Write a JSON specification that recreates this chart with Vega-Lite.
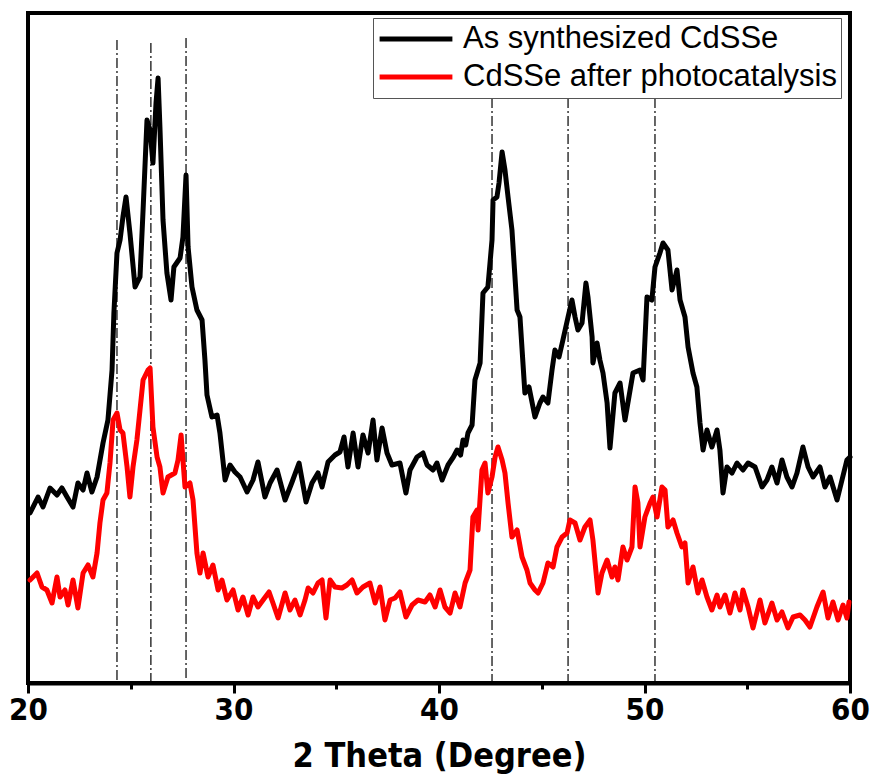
{
  "$schema": "https://vega.github.io/schema/vega-lite/v6.json",
  "width": 822,
  "height": 670,
  "autosize": {"type": "none"},
  "padding": {"left": 28, "top": 13, "right": 23, "bottom": 100},
  "background": "white",
  "config": {
    "view": {"stroke": "black", "strokeWidth": 4},
    "font": "Liberation Sans"
  },
  "datasets": {
    "black": [
      {"t":20.10,"i":170},{"t":20.49,"i":186},{"t":20.73,"i":176},{"t":21.07,"i":195},{"t":21.41,"i":188},{"t":21.65,"i":195},{"t":21.90,"i":186},{"t":22.19,"i":176},{"t":22.43,"i":200},{"t":22.68,"i":193},{"t":22.87,"i":210},{"t":23.11,"i":191},{"t":23.36,"i":206},{"t":23.65,"i":240},{"t":23.89,"i":263},{"t":24.09,"i":313},{"t":24.18,"i":370},{"t":24.33,"i":430},{"t":24.48,"i":443},{"t":24.62,"i":466},{"t":24.77,"i":486},{"t":24.96,"i":450},{"t":25.21,"i":396},{"t":25.45,"i":406},{"t":25.60,"i":473},{"t":25.79,"i":563},{"t":25.94,"i":553},{"t":26.08,"i":520},{"t":26.23,"i":580},{"t":26.33,"i":605},{"t":26.42,"i":556},{"t":26.57,"i":463},{"t":26.76,"i":410},{"t":26.96,"i":383},{"t":27.10,"i":416},{"t":27.40,"i":425},{"t":27.54,"i":446},{"t":27.69,"i":508},{"t":27.79,"i":436},{"t":27.98,"i":396},{"t":28.22,"i":373},{"t":28.47,"i":363},{"t":28.61,"i":323},{"t":28.71,"i":288},{"t":28.95,"i":266},{"t":29.20,"i":268},{"t":29.34,"i":250},{"t":29.59,"i":203},{"t":29.83,"i":218},{"t":30.07,"i":211},{"t":30.32,"i":206},{"t":30.66,"i":191},{"t":30.95,"i":203},{"t":31.19,"i":221},{"t":31.53,"i":186},{"t":31.78,"i":200},{"t":32.12,"i":213},{"t":32.51,"i":183},{"t":32.85,"i":201},{"t":33.19,"i":220},{"t":33.53,"i":181},{"t":33.82,"i":200},{"t":34.11,"i":210},{"t":34.31,"i":196},{"t":34.60,"i":221},{"t":34.94,"i":228},{"t":35.18,"i":231},{"t":35.38,"i":246},{"t":35.57,"i":216},{"t":35.82,"i":250},{"t":36.06,"i":216},{"t":36.30,"i":248},{"t":36.55,"i":230},{"t":36.79,"i":263},{"t":36.98,"i":223},{"t":37.23,"i":255},{"t":37.47,"i":230},{"t":37.71,"i":218},{"t":38.10,"i":220},{"t":38.39,"i":190},{"t":38.59,"i":213},{"t":38.93,"i":226},{"t":39.22,"i":230},{"t":39.42,"i":218},{"t":39.71,"i":213},{"t":39.90,"i":220},{"t":40.15,"i":203},{"t":40.44,"i":218},{"t":40.70,"i":226},{"t":40.88,"i":233},{"t":41.05,"i":228},{"t":41.17,"i":243},{"t":41.30,"i":238},{"t":41.41,"i":250},{"t":41.61,"i":258},{"t":41.75,"i":303},{"t":42.00,"i":320},{"t":42.14,"i":390},{"t":42.38,"i":396},{"t":42.58,"i":443},{"t":42.63,"i":483},{"t":42.82,"i":486},{"t":42.92,"i":500},{"t":43.07,"i":531},{"t":43.21,"i":513},{"t":43.36,"i":486},{"t":43.55,"i":453},{"t":43.80,"i":373},{"t":43.94,"i":366},{"t":44.18,"i":290},{"t":44.38,"i":296},{"t":44.67,"i":266},{"t":44.91,"i":280},{"t":45.06,"i":286},{"t":45.30,"i":280},{"t":45.50,"i":313},{"t":45.64,"i":333},{"t":45.84,"i":326},{"t":46.03,"i":343},{"t":46.28,"i":366},{"t":46.47,"i":383},{"t":46.62,"i":366},{"t":46.76,"i":353},{"t":46.96,"i":360},{"t":47.15,"i":400},{"t":47.25,"i":386},{"t":47.45,"i":346},{"t":47.49,"i":320},{"t":47.69,"i":340},{"t":47.83,"i":323},{"t":47.98,"i":310},{"t":48.18,"i":280},{"t":48.32,"i":235},{"t":48.56,"i":290},{"t":48.81,"i":300},{"t":49.05,"i":263},{"t":49.44,"i":310},{"t":49.78,"i":313},{"t":49.93,"i":303},{"t":50.12,"i":386},{"t":50.36,"i":383},{"t":50.51,"i":416},{"t":50.75,"i":430},{"t":50.90,"i":440},{"t":51.14,"i":433},{"t":51.34,"i":393},{"t":51.58,"i":413},{"t":51.73,"i":383},{"t":51.97,"i":366},{"t":52.12,"i":336},{"t":52.36,"i":310},{"t":52.55,"i":296},{"t":52.70,"i":260},{"t":52.85,"i":233},{"t":53.04,"i":253},{"t":53.28,"i":236},{"t":53.53,"i":253},{"t":53.67,"i":233},{"t":53.82,"i":190},{"t":54.01,"i":216},{"t":54.26,"i":210},{"t":54.50,"i":220},{"t":54.79,"i":213},{"t":55.04,"i":220},{"t":55.38,"i":216},{"t":55.72,"i":196},{"t":55.96,"i":203},{"t":56.20,"i":216},{"t":56.45,"i":200},{"t":56.69,"i":223},{"t":56.93,"i":206},{"t":57.18,"i":196},{"t":57.42,"i":210},{"t":57.71,"i":236},{"t":57.96,"i":216},{"t":58.20,"i":206},{"t":58.54,"i":216},{"t":58.78,"i":196},{"t":59.03,"i":206},{"t":59.37,"i":183},{"t":59.61,"i":203},{"t":59.85,"i":223},{"t":60.00,"i":226}
    ],
    "red": [
      {"t":20.10,"i":103},{"t":20.44,"i":110},{"t":20.68,"i":96},{"t":20.92,"i":93},{"t":21.17,"i":80},{"t":21.41,"i":106},{"t":21.56,"i":86},{"t":21.80,"i":93},{"t":21.95,"i":78},{"t":22.19,"i":103},{"t":22.43,"i":75},{"t":22.68,"i":110},{"t":22.92,"i":118},{"t":23.16,"i":106},{"t":23.36,"i":130},{"t":23.50,"i":160},{"t":23.65,"i":183},{"t":23.84,"i":190},{"t":23.99,"i":220},{"t":24.14,"i":263},{"t":24.33,"i":270},{"t":24.48,"i":253},{"t":24.62,"i":250},{"t":24.82,"i":216},{"t":24.96,"i":186},{"t":25.11,"i":216},{"t":25.30,"i":243},{"t":25.45,"i":273},{"t":25.60,"i":303},{"t":25.84,"i":313},{"t":25.94,"i":315},{"t":26.08,"i":256},{"t":26.28,"i":226},{"t":26.42,"i":216},{"t":26.57,"i":190},{"t":26.81,"i":206},{"t":27.15,"i":210},{"t":27.30,"i":223},{"t":27.45,"i":248},{"t":27.54,"i":223},{"t":27.64,"i":196},{"t":27.88,"i":200},{"t":28.03,"i":183},{"t":28.22,"i":130},{"t":28.37,"i":110},{"t":28.52,"i":130},{"t":28.76,"i":106},{"t":29.00,"i":118},{"t":29.25,"i":93},{"t":29.44,"i":103},{"t":29.68,"i":83},{"t":29.98,"i":93},{"t":30.22,"i":73},{"t":30.46,"i":86},{"t":30.71,"i":68},{"t":30.95,"i":86},{"t":31.19,"i":76},{"t":31.44,"i":83},{"t":31.73,"i":91},{"t":31.92,"i":80},{"t":32.17,"i":65},{"t":32.51,"i":90},{"t":32.75,"i":73},{"t":32.99,"i":83},{"t":33.24,"i":68},{"t":33.48,"i":83},{"t":33.63,"i":95},{"t":33.87,"i":90},{"t":34.11,"i":100},{"t":34.31,"i":103},{"t":34.50,"i":65},{"t":34.70,"i":103},{"t":34.94,"i":96},{"t":35.28,"i":95},{"t":35.52,"i":98},{"t":35.77,"i":103},{"t":36.01,"i":90},{"t":36.30,"i":96},{"t":36.64,"i":100},{"t":36.89,"i":80},{"t":37.13,"i":96},{"t":37.37,"i":63},{"t":37.62,"i":83},{"t":37.86,"i":85},{"t":38.10,"i":91},{"t":38.39,"i":66},{"t":38.69,"i":78},{"t":38.98,"i":83},{"t":39.32,"i":81},{"t":39.56,"i":88},{"t":39.81,"i":76},{"t":40.05,"i":93},{"t":40.29,"i":76},{"t":40.54,"i":70},{"t":40.78,"i":90},{"t":41.02,"i":76},{"t":41.27,"i":100},{"t":41.51,"i":113},{"t":41.65,"i":166},{"t":41.85,"i":173},{"t":41.90,"i":153},{"t":42.09,"i":213},{"t":42.24,"i":220},{"t":42.38,"i":190},{"t":42.58,"i":206},{"t":42.73,"i":226},{"t":42.87,"i":236},{"t":43.07,"i":223},{"t":43.21,"i":210},{"t":43.36,"i":180},{"t":43.55,"i":146},{"t":43.80,"i":153},{"t":44.04,"i":126},{"t":44.28,"i":113},{"t":44.43,"i":100},{"t":44.67,"i":93},{"t":44.82,"i":90},{"t":45.06,"i":100},{"t":45.30,"i":120},{"t":45.55,"i":116},{"t":45.74,"i":136},{"t":45.99,"i":146},{"t":46.23,"i":150},{"t":46.37,"i":163},{"t":46.62,"i":160},{"t":46.86,"i":143},{"t":47.10,"i":156},{"t":47.35,"i":163},{"t":47.49,"i":143},{"t":47.74,"i":90},{"t":47.93,"i":110},{"t":48.18,"i":123},{"t":48.42,"i":106},{"t":48.56,"i":116},{"t":48.71,"i":103},{"t":48.95,"i":136},{"t":49.15,"i":123},{"t":49.39,"i":136},{"t":49.54,"i":196},{"t":49.68,"i":180},{"t":49.78,"i":136},{"t":50.02,"i":166},{"t":50.27,"i":180},{"t":50.41,"i":186},{"t":50.61,"i":166},{"t":50.85,"i":196},{"t":51.00,"i":193},{"t":51.14,"i":156},{"t":51.39,"i":163},{"t":51.58,"i":150},{"t":51.82,"i":136},{"t":51.97,"i":140},{"t":52.12,"i":100},{"t":52.36,"i":116},{"t":52.60,"i":90},{"t":52.80,"i":103},{"t":53.04,"i":86},{"t":53.28,"i":73},{"t":53.53,"i":88},{"t":53.67,"i":76},{"t":53.92,"i":88},{"t":54.16,"i":70},{"t":54.40,"i":90},{"t":54.65,"i":73},{"t":54.79,"i":93},{"t":55.04,"i":76},{"t":55.28,"i":55},{"t":55.62,"i":83},{"t":55.86,"i":60},{"t":56.20,"i":80},{"t":56.45,"i":63},{"t":56.69,"i":71},{"t":56.98,"i":55},{"t":57.23,"i":66},{"t":57.57,"i":68},{"t":57.81,"i":63},{"t":58.05,"i":56},{"t":58.39,"i":76},{"t":58.69,"i":91},{"t":58.93,"i":65},{"t":59.17,"i":81},{"t":59.42,"i":63},{"t":59.66,"i":78},{"t":59.85,"i":65},{"t":59.95,"i":81}
    ],
    "refs": [
      {"t":24.33,"top":643},{"t":25.98,"top":640},{"t":27.69,"top":645},{"t":42.58,"top":585},{"t":46.28,"top":585},{"t":50.51,"top":585}
    ]
  },
  "layer": [
    {
      "data": {"name": "refs"},
      "mark": {"type": "rule", "color": "black", "strokeWidth": 1.2, "strokeDash": [10, 3, 2, 3]},
      "encoding": {
        "x": {"field": "t", "type": "quantitative", "scale": {"domain": [20, 60], "nice": false, "zero": false},
          "axis": {
            "values": [20, 25, 30, 35, 40, 45, 50, 55, 60],
            "labelExpr": "datum.value % 10 === 0 ? datum.label : ''",
            "grid": false,
            "domainColor": "black", "domainWidth": 4,
            "tickColor": "black", "tickWidth": 3,
            "tickSize": {"condition": {"test": "datum.value % 10 === 0", "value": 10}, "value": 6},
            "labelFont": "DejaVu Sans Condensed, Liberation Sans", "labelFontWeight": "bold", "labelFontSize": 31, "labelColor": "black",
            "labelPadding": 2, "labelFlush": false,
            "title": "2 Theta (Degree)",
            "titleFont": "DejaVu Sans Condensed, Liberation Sans", "titleFontWeight": "bold", "titleFontSize": 34, "titleColor": "black", "titlePadding": 14
          }},
        "y": {"field": "top", "type": "quantitative", "scale": {"domain": [0, 670], "nice": false}, "axis": null},
        "y2": {"datum": 0}
      }
    },
    {
      "data": {"name": "black"},
      "mark": {"type": "line", "strokeWidth": 5, "strokeJoin": "round", "strokeCap": "round"},
      "encoding": {
        "x": {"field": "t", "type": "quantitative"},
        "y": {"field": "i", "type": "quantitative"},
        "color": {"datum": "As synthesized CdSSe", "type": "nominal",
          "scale": {"domain": ["As synthesized CdSSe", "CdSSe after photocatalysis"], "range": ["black", "red"]},
          "legend": {
            "title": null, "orient": "none", "legendX": 345, "legendY": 5,
            "direction": "vertical",
            "strokeColor": "#555", "fillColor": "white", "padding": 4,
            "symbolType": "stroke", "symbolSize": 5300, "symbolStrokeWidth": 5,
            "clipHeight": 34,
            "labelFont": "Liberation Sans", "labelFontSize": 31, "labelColor": "black", "labelOffset": 8,
            "rowPadding": 4, "labelLimit": 500
          }}
      }
    },
    {
      "data": {"name": "red"},
      "mark": {"type": "line", "strokeWidth": 5, "strokeJoin": "round", "strokeCap": "round"},
      "encoding": {
        "x": {"field": "t", "type": "quantitative"},
        "y": {"field": "i", "type": "quantitative"},
        "color": {"datum": "CdSSe after photocatalysis", "type": "nominal"}
      }
    }
  ]
}
